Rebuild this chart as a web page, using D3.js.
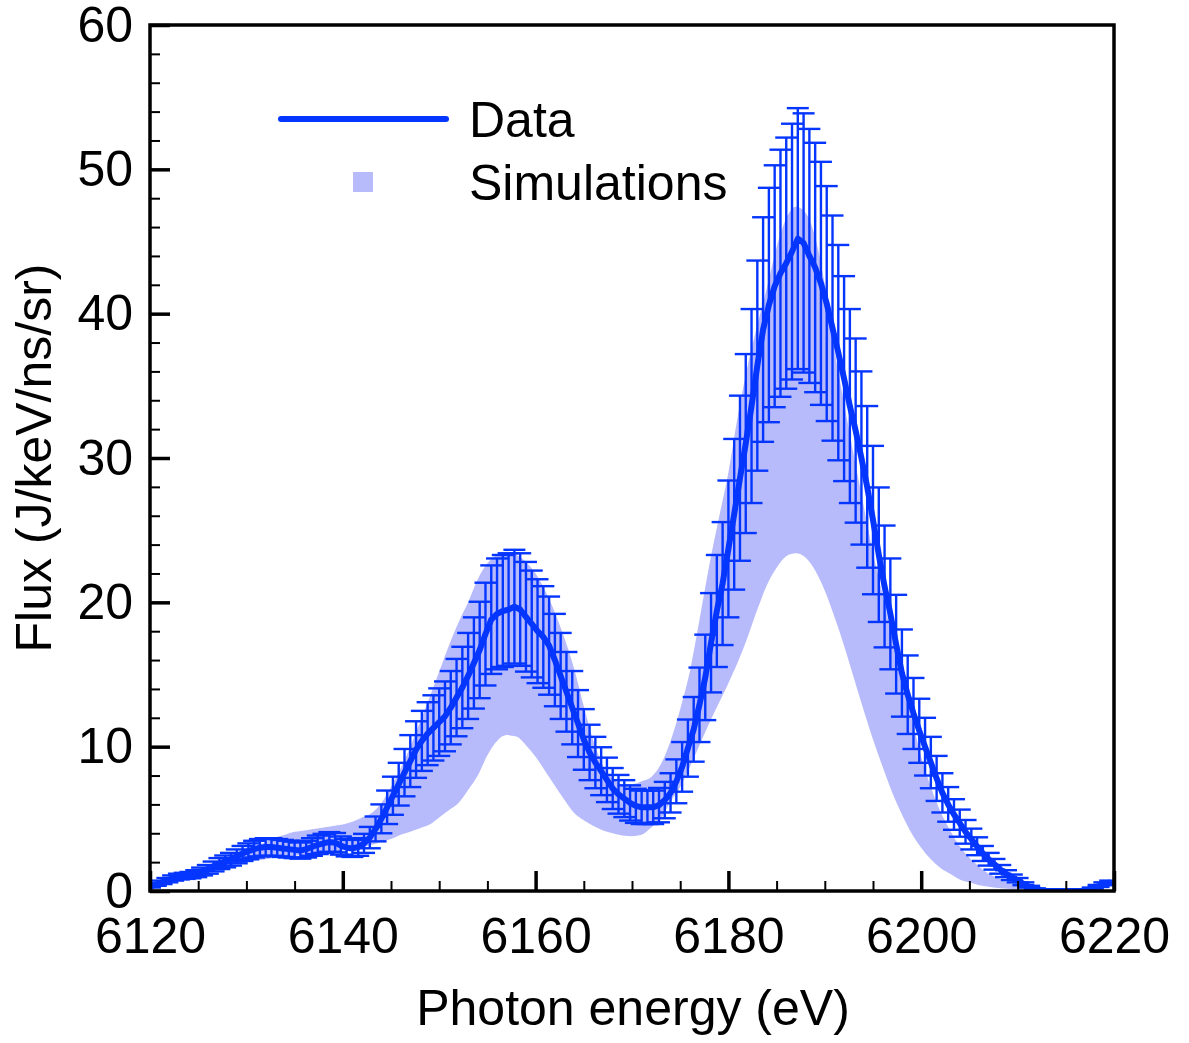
<!DOCTYPE html>
<html>
<head>
<meta charset="utf-8">
<script src="https://cdn.jsdelivr.net/npm/d3@7"></script>
<style>
  body { margin: 0; background: #fff; }
  svg text { font-family: "Liberation Sans", Arial, Helvetica, sans-serif; fill: #000; }
</style>
</head>
<body>
<div class="canvas"></div>
<script>
// measured spectrum (eV) with flux and its error
const energies = [
  6120.0,6120.6,6121.2,6121.8,6122.4,6123.0,6123.6,6124.2,6124.8,6125.4,
  6126.0,6126.6,6127.2,6127.8,6128.4,6129.0,6129.6,6130.2,6130.8,6131.4,
  6132.0,6132.6,6133.2,6133.8,6134.4,6135.0,6135.6,6136.2,6136.8,6137.4,
  6138.0,6138.6,6139.2,6139.8,6140.4,6141.0,6141.6,6142.2,6142.8,6143.4,
  6144.0,6144.6,6145.2,6145.8,6146.4,6147.0,6147.6,6148.2,6148.8,6149.4,
  6150.0,6150.6,6151.2,6151.8,6152.4,6153.0,6153.6,6154.2,6154.8,6155.4,
  6156.0,6156.6,6157.2,6157.8,6158.4,6159.0,6159.6,6160.2,6160.8,6161.4,
  6162.0,6162.6,6163.2,6163.8,6164.4,6165.0,6165.6,6166.2,6166.8,6167.4,
  6168.0,6168.6,6169.2,6169.8,6170.4,6171.0,6171.6,6172.2,6172.8,6173.4,
  6174.0,6174.6,6175.2,6175.8,6176.4,6177.0,6177.6,6178.2,6178.8,6179.4,
  6180.0,6180.6,6181.2,6181.8,6182.4,6183.0,6183.6,6184.2,6184.8,6185.4,
  6186.0,6186.6,6187.2,6187.8,6188.4,6189.0,6189.6,6190.2,6190.8,6191.4,
  6192.0,6192.6,6193.2,6193.8,6194.4,6195.0,6195.6,6196.2,6196.8,6197.4,
  6198.0,6198.6,6199.2,6199.8,6200.4,6201.0,6201.6,6202.2,6202.8,6203.4,
  6204.0,6204.6,6205.2,6205.8,6206.4,6207.0,6207.6,6208.2,6208.8,6209.4,
  6210.0,6210.6,6211.2,6211.8,6212.4,6213.0,6213.6,6214.2,6214.8,6215.4,
  6216.0,6216.6,6217.2,6217.8,6218.4,6219.0,6219.6
];
const flux = [
  0.3,0.45,0.6,0.75,0.9,1.0,1.05,1.1,1.2,1.35,
  1.5,1.7,1.9,2.05,2.2,2.4,2.6,2.75,2.9,3.0,
  3.05,3.05,3.0,2.95,2.9,2.85,2.8,2.9,3.05,3.2,
  3.3,3.4,3.35,3.15,3.0,2.95,3.05,3.3,3.7,4.3,
  5.0,5.8,6.6,7.4,8.2,9.0,9.8,10.4,10.9,11.3,
  11.7,12.1,12.7,13.4,14.1,14.9,15.8,16.7,17.8,18.8,
  19.2,19.4,19.5,19.7,19.5,19.0,18.5,18.0,17.6,17.0,
  16.0,14.9,13.8,12.7,11.6,10.5,9.6,8.9,8.3,7.7,
  7.1,6.7,6.4,6.1,5.9,5.8,5.8,5.8,5.95,6.3,
  6.8,7.6,8.6,9.9,11.2,12.9,14.8,17.2,19.4,21.3,
  23.7,26.1,28.6,31.0,33.6,36.4,38.9,40.6,41.9,42.8,
  43.5,44.3,45.2,44.9,44.0,43.2,42.1,40.7,39.0,37.3,
  35.5,33.6,31.9,30.0,28.0,25.7,23.3,21.1,19.2,17.1,
  15.1,13.6,12.3,11.1,10.0,8.9,7.8,6.8,6.0,5.3,
  4.7,4.1,3.6,3.1,2.6,2.2,1.85,1.5,1.2,0.95,
  0.75,0.5,0.3,0.15,0.05,0,0,0,0,0,
  0,0,0.05,0.2,0.35,0.5,0.6
];
const fluxErr = [
  0.06,0.09,0.12,0.15,0.18,0.2,0.21,0.22,0.24,0.27,
  0.3,0.34,0.38,0.41,0.44,0.48,0.52,0.55,0.58,0.6,
  0.61,0.61,0.6,0.59,0.58,0.57,0.56,0.58,0.61,0.64,
  0.66,0.68,0.67,0.63,0.6,0.59,0.61,0.66,0.74,0.86,
  1.0,1.16,1.32,1.48,1.64,1.8,1.96,2.08,2.18,2.26,
  2.34,2.42,2.54,2.68,2.82,2.98,3.16,3.34,3.56,3.76,
  3.84,3.88,3.9,3.94,3.9,3.8,3.7,3.6,3.52,3.4,
  3.2,2.98,2.76,2.54,2.32,2.1,1.92,1.78,1.66,1.54,
  1.42,1.34,1.28,1.22,1.18,1.16,1.16,1.16,1.19,1.26,
  1.36,1.52,1.72,1.98,2.24,2.58,2.96,3.44,3.88,4.26,
  4.74,5.22,5.72,6.2,6.72,7.28,7.78,8.12,8.38,8.56,
  8.7,8.86,9.04,8.98,8.8,8.64,8.42,8.14,7.8,7.46,
  7.1,6.72,6.38,6.0,5.6,5.14,4.66,4.22,3.84,3.42,
  3.02,2.72,2.46,2.22,2.0,1.78,1.56,1.36,1.2,1.06,
  0.94,0.82,0.72,0.62,0.52,0.44,0.37,0.3,0.24,0.19,
  0.15,0.1,0.06,0.03,0.01,0,0,0,0,0,
  0,0,0.01,0.04,0.07,0.1,0.12
];

// simulation envelope, 1 eV grid
const simEnergy = [
  6120,6121,6122,6123,6124,6125,6126,6127,6128,6129,
  6130,6131,6132,6133,6134,6135,6136,6137,6138,6139,
  6140,6141,6142,6143,6144,6145,6146,6147,6148,6149,
  6150,6151,6152,6153,6154,6155,6156,6157,6158,6159,
  6160,6161,6162,6163,6164,6165,6166,6167,6168,6169,
  6170,6171,6172,6173,6174,6175,6176,6177,6178,6179,
  6180,6181,6182,6183,6184,6185,6186,6187,6188,6189,
  6190,6191,6192,6193,6194,6195,6196,6197,6198,6199,
  6200,6201,6202,6203,6204,6205,6206,6207,6208,6209,
  6210,6211,6212,6213,6214,6215,6216,6217,6218,6219,6220
];
const simHigh = [
  0.4,0.7,0.9,1.1,1.3,1.5,1.8,2.1,2.3,2.6,
  2.9,3.1,3.4,3.7,3.9,4.1,4.2,4.3,4.4,4.5,
  4.6,4.8,5.1,5.4,6.1,7.2,8.5,10.0,11.7,13.4,
  15.2,17.0,18.6,20.0,21.6,22.7,23.3,23.5,23.3,22.8,
  22.0,20.8,19.3,17.5,15.4,12.8,10.4,8.7,7.8,7.4,
  7.4,7.6,7.9,8.8,10.4,12.6,15.2,18.8,22.5,25.8,
  29.0,33.0,36.4,39.2,41.8,44.6,46.6,47.4,47.0,45.3,
  42.0,37.5,33.8,30.2,26.8,23.4,20.5,17.5,14.7,12.0,
  9.3,7.2,5.5,4.2,3.1,2.3,1.7,1.2,0.9,0.6,
  0.4,0.25,0.15,0.08,0.04,0.02,0,0,0,0,0
];
const simLow = [
  0.1,0.3,0.5,0.7,0.9,1.1,1.3,1.5,1.7,1.9,
  2.0,2.1,2.2,2.3,2.4,2.45,2.5,2.55,2.6,2.7,
  2.8,2.9,3.0,3.2,3.4,3.6,3.9,4.1,4.35,4.6,
  5.1,5.6,6.1,7.0,8.0,9.4,10.4,10.8,10.7,10.1,
  9.3,8.3,7.3,6.3,5.4,4.9,4.5,4.2,4.0,3.85,
  3.8,3.9,4.4,5.0,6.2,7.2,8.6,10.1,11.6,13.0,
  14.4,15.9,17.6,19.5,21.2,22.4,23.2,23.4,23.1,22.2,
  20.8,19.0,17.0,14.8,12.6,10.5,8.6,6.8,5.3,4.0,
  3.0,2.2,1.6,1.2,0.8,0.6,0.4,0.3,0.2,0.15,
  0.1,0.07,0.05,0.03,0.02,0.01,0,0,0,0,0
];

const xTicks = [6120, 6140, 6160, 6180, 6200, 6220];
const xMinorTicks = [6125, 6130, 6135, 6145, 6150, 6155, 6165, 6170, 6175, 6185, 6190, 6195, 6205, 6210, 6215];
const yTicks = [0, 10, 20, 30, 40, 50, 60];
const yMinorTicks = [2, 4, 6, 8, 12, 14, 16, 18, 22, 24, 26, 28, 32, 34, 36, 38, 42, 44, 46, 48, 52, 54, 56, 58];

const lineColor = '#0536ff';
const bandColor = '#b8bbfb';
const fontSize = 50;

// svg setup
const svg = d3.select('.canvas')
  .append('svg')
  .attr('width', 1189)
  .attr('height', 1043);

const margin = {top: 25, right: 75, bottom: 152, left: 150};
const graphWidth = 1189 - margin.left - margin.right;
const graphHeight = 1043 - margin.top - margin.bottom;

const graph = svg.append('g')
  .attr('transform', `translate(${margin.left}, ${margin.top})`);

const x = d3.scaleLinear().domain([6120, 6220]).range([0, graphWidth]);
const y = d3.scaleLinear().domain([0, 60]).range([graphHeight, 0]);

svg.append('clipPath').attr('id', 'plot-clip')
  .append('rect').attr('x', 0).attr('y', -5).attr('width', graphWidth).attr('height', graphHeight + 5);

const plot = graph.append('g').attr('clip-path', 'url(#plot-clip)');

// simulation band
const sims = simEnergy.map((e, i) => ({e, lo: simLow[i], hi: simHigh[i]}));
const area = d3.area()
  .x(d => x(d.e))
  .y0(d => y(d.lo))
  .y1(d => y(d.hi))
  .curve(d3.curveMonotoneX);

plot.append('path')
  .datum(sims)
  .attr('d', area)
  .attr('fill', bandColor);

// data with error bars
const data = energies.map((e, i) => ({e, v: flux[i], err: fluxErr[i]}));
const capHalf = 11;

const bars = plot.append('g')
  .attr('stroke', lineColor)
  .attr('stroke-width', 2.4)
  .selectAll('g')
  .data(data)
  .enter()
  .append('g');

bars.append('line')
  .attr('x1', d => x(d.e)).attr('x2', d => x(d.e))
  .attr('y1', d => y(d.v - d.err)).attr('y2', d => y(d.v + d.err));
bars.append('line')
  .attr('x1', d => x(d.e) - capHalf).attr('x2', d => x(d.e) + capHalf)
  .attr('y1', d => y(d.v + d.err)).attr('y2', d => y(d.v + d.err));
bars.append('line')
  .attr('x1', d => x(d.e) - capHalf).attr('x2', d => x(d.e) + capHalf)
  .attr('y1', d => y(d.v - d.err)).attr('y2', d => y(d.v - d.err));

const line = d3.line()
  .x(d => x(d.e))
  .y(d => y(d.v));

plot.append('path')
  .datum(data)
  .attr('d', line)
  .attr('fill', 'none')
  .attr('stroke', lineColor)
  .attr('stroke-width', 6)
  .attr('stroke-linejoin', 'round');

// axes (ticks point inward)
const xAxisGroup = graph.append('g').attr('transform', `translate(0, ${graphHeight})`);
xAxisGroup.call(d3.axisBottom(x).tickValues(xTicks).tickSize(-20).tickPadding(26).tickFormat(d3.format('d')));

const xMinorGroup = graph.append('g').attr('transform', `translate(0, ${graphHeight})`);
xMinorGroup.call(d3.axisBottom(x).tickValues(xMinorTicks).tickSize(-10).tickFormat(''));

const yAxisGroup = graph.append('g');
yAxisGroup.call(d3.axisLeft(y).tickValues(yTicks).tickSize(-20).tickPadding(17));

const yMinorGroup = graph.append('g');
yMinorGroup.call(d3.axisLeft(y).tickValues(yMinorTicks).tickSize(-10).tickFormat(''));

graph.selectAll('.domain').remove();
xAxisGroup.selectAll('line').attr('stroke', '#000').attr('stroke-width', 3.5);
yAxisGroup.selectAll('line').attr('stroke', '#000').attr('stroke-width', 3.5);
xMinorGroup.selectAll('line').attr('stroke', '#000').attr('stroke-width', 2);
yMinorGroup.selectAll('line').attr('stroke', '#000').attr('stroke-width', 2);
graph.selectAll('.tick text')
  .attr('font-size', fontSize)
  .attr('font-family', '"Liberation Sans", Arial, Helvetica, sans-serif')
  .attr('fill', '#000');

// frame
graph.append('rect')
  .attr('x', 0).attr('y', 0)
  .attr('width', graphWidth).attr('height', graphHeight)
  .attr('fill', 'none')
  .attr('stroke', '#000')
  .attr('stroke-width', 3.5);

// axis titles
svg.append('text')
  .attr('x', margin.left + graphWidth / 2 + 1)
  .attr('y', 1025)
  .attr('text-anchor', 'middle')
  .attr('font-size', fontSize)
  .text('Photon energy (eV)');

svg.append('text')
  .attr('transform', `translate(51, ${margin.top + graphHeight / 2}) rotate(-90)`)
  .attr('text-anchor', 'middle')
  .attr('font-size', fontSize)
  .text('Flux (J/keV/ns/sr)');

// legend
const legend = svg.append('g');
legend.append('line')
  .attr('x1', 281).attr('x2', 446)
  .attr('y1', 119).attr('y2', 119)
  .attr('stroke', lineColor)
  .attr('stroke-width', 6)
  .attr('stroke-linecap', 'round');
legend.append('text')
  .attr('x', 469).attr('y', 137)
  .attr('font-size', fontSize)
  .text('Data');
legend.append('rect')
  .attr('x', 353).attr('y', 172)
  .attr('width', 20).attr('height', 20)
  .attr('fill', bandColor);
legend.append('text')
  .attr('x', 469).attr('y', 200)
  .attr('font-size', fontSize)
  .text('Simulations');
</script>
</body>
</html>
